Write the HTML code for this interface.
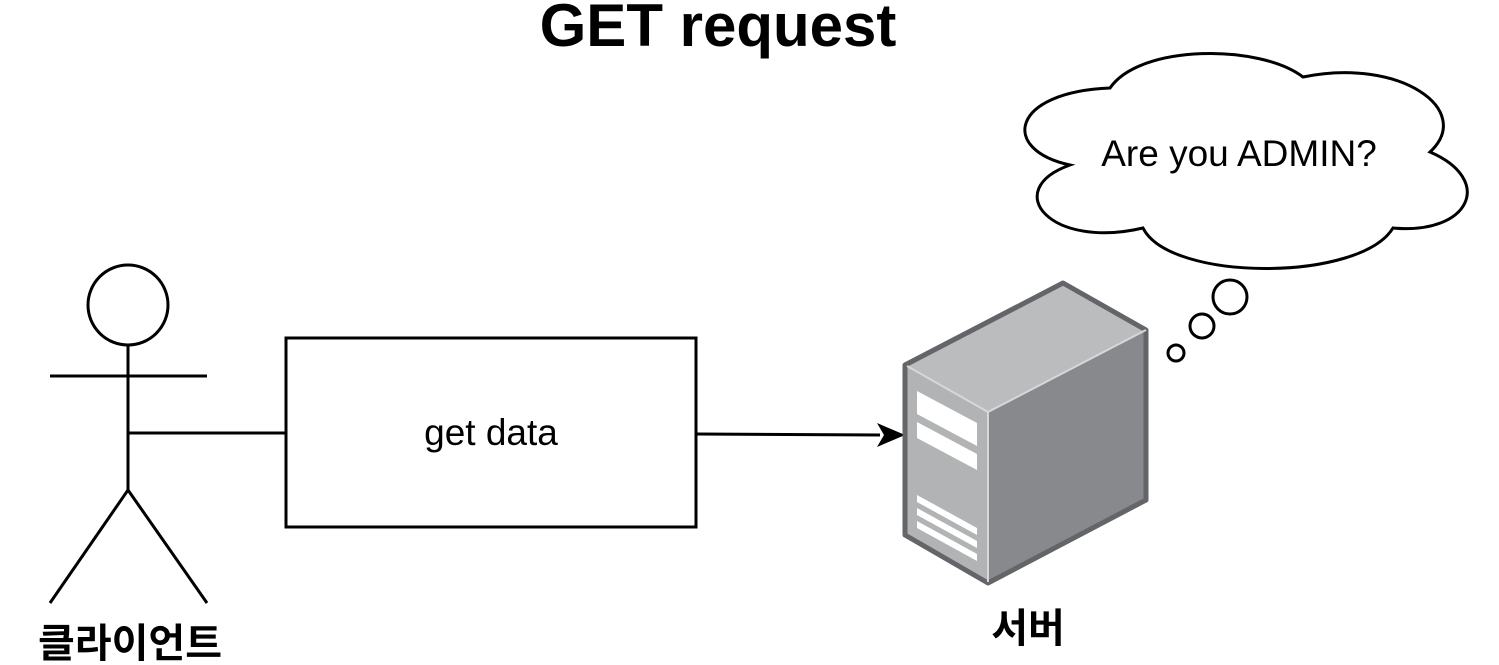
<!DOCTYPE html>
<html><head><meta charset="utf-8"><style>
html,body{margin:0;padding:0;background:#fff;}
svg{display:block}
</style></head><body>
<svg width="1499" height="665" viewBox="0 0 1499 665" xmlns="http://www.w3.org/2000/svg">
<text x="718" y="46" text-anchor="middle" font-family="Liberation Sans, sans-serif" font-weight="bold" font-size="60">GET request</text>
<!-- stick figure -->
<g stroke="#000" stroke-width="3" fill="none">
<circle cx="128" cy="305" r="40"/>
<line x1="128" y1="345" x2="128" y2="490"/>
<line x1="50" y1="376" x2="207" y2="376"/>
<line x1="128" y1="490" x2="50" y2="603"/>
<line x1="128" y1="490" x2="207" y2="603"/>
<line x1="128" y1="433" x2="286" y2="433"/>
<rect x="286" y="338" width="410" height="189" fill="#fff"/>
<line x1="696" y1="434" x2="880" y2="435"/>
</g>
<polygon points="905,435 877,423 884,435 877,447" fill="#000"/>
<text x="491" y="445" text-anchor="middle" font-family="Liberation Sans, sans-serif" font-size="37">get data</text>
<text x="130" y="657" text-anchor="middle" font-family="Liberation Sans, 'Noto Sans CJK KR', sans-serif" font-weight="bold" font-size="40">클라이언트</text>
<!-- server -->
<polygon points="905,365 1063,283 1146,330 988,412" fill="#bbbcbe"/>
<polygon points="905,365 988,412 988,583 905,535" fill="#b2b3b5"/>
<polygon points="988,412 1146,330 1146,500 988,583" fill="#88898c"/>
<polygon points="905,365 1063,283 1146,330 1146,500 988,583 905,535" fill="none" stroke="#646568" stroke-width="5" stroke-linejoin="round"/>
<polyline points="907,366 988,412 1146,330" fill="none" stroke="#d6d7d8" stroke-width="2"/>
<line x1="988" y1="412" x2="988" y2="582" stroke="#d6d7d8" stroke-width="2"/>
<g fill="#fff">
<polygon points="917,391 977,423 977,446 917,414"/>
<polygon points="917,422 977,454 977,470 917,438"/>
<polygon points="917,495 977,528 977,535 917,502"/>
<polygon points="917,508 977,541 977,548 917,515"/>
<polygon points="917,521 977,554 977,561 917,528"/>
</g>
<text x="1028" y="642" text-anchor="middle" font-family="Liberation Sans, 'Noto Sans CJK KR', sans-serif" font-weight="bold" font-size="40">서버</text>
<!-- cloud -->
<path d="M1070,165 C1000,150 1010,92 1110,88 C1140,44 1260,44 1303,77 C1400,57 1475,110 1430,152 C1495,180 1470,235 1393,228 C1360,282 1170,282 1143,228 C1050,250 1000,190 1070,165 Z" fill="#fff" stroke="#000" stroke-width="3"/>
<text x="1239" y="166" text-anchor="middle" font-family="Liberation Sans, sans-serif" font-size="37">Are you ADMIN?</text>
<g fill="#fff" stroke="#000" stroke-width="3">
<circle cx="1230" cy="297" r="17"/>
<circle cx="1202" cy="326" r="12"/>
<circle cx="1176" cy="353" r="8"/>
</g>
</svg>
</body></html>
